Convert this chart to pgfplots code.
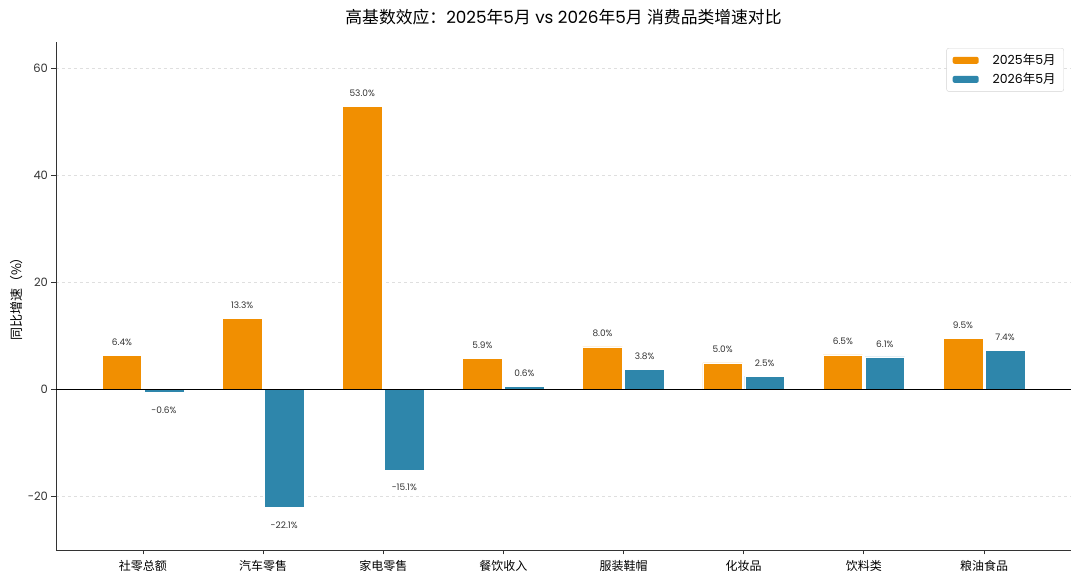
\documentclass[border=0pt]{standalone}
\usepackage{pgfplots}
\pgfplotsset{compat=1.18}
\usepackage{fontspec}
\setmainfont{Poppins}
\newfontfamily\cjk{Noto Sans CJK SC}
\definecolor{corange}{HTML}{F18F01}
\definecolor{cteal}{HTML}{2E86AB}
\definecolor{spine}{HTML}{333333}
\begin{document}
\begin{tikzpicture}
\path[use as bounding box] (-56pt,-31pt) rectangle (1024pt,550pt);
\begin{axis}[
  scale only axis,
  width=1015pt, height=508pt,
  xmin=-0.724, xmax=7.724,
  ymin=-30, ymax=65,
  axis x line*=bottom, axis y line*=left,
  axis line style={spine, line width=0.9pt},
  tick style={spine, line width=0.9pt},
  tick align=outside,
  major tick length=4.5pt,
  xtick={0,1,2,3,4,5,6,7},
  xticklabels={{\cjk 社零总额},{\cjk 汽车零售},{\cjk 家电零售},{\cjk 餐饮收入},{\cjk 服装鞋帽},{\cjk 化妆品},{\cjk 饮料类},{\cjk 粮油食品}},
  ytick={-20,0,20,40,60},
  x tick label style={font=\fontsize{12}{14}\selectfont, text=black, yshift=-2pt},
  y tick label style={font=\fontsize{11.5}{14}\selectfont, text=spine},
  /pgf/number format/assume math mode=true,
  ymajorgrids,
  major grid style={dashed, gray!25, line width=0.6pt},
  ylabel={\cjk 同比增速（\%）},
  every axis y label/.style={at={(rel axis cs:0,0.5)}, xshift=-39pt, rotate=90, anchor=center, font=\fontsize{13}{15}\selectfont},
  title={{\cjk 高基数效应：}2025{\cjk 年}5{\cjk 月} vs 2026{\cjk 年}5{\cjk 月} {\cjk 消费品类增速对比}},
  every axis title/.style={at={(0.5,1)}, anchor=center, yshift=25pt, font=\fontsize{16.8}{19}\selectfont},
  ybar,
  bar width=0.33,
  visualization depends on={y \as \rawy},
  nodes near coords={\pgfmathprintnumber[fixed,precision=1,fixed zerofill,assume math mode=true]{\pgfplotspointmeta}\%},
  every node near coord/.append style={font=\fontsize{9}{10}\selectfont, text=spine, inner sep=9.5pt,
     yshift={ifthenelse(\rawy<0,-4,0)}},
  legend style={at={(0.993,0.988)}, anchor=north east, draw=gray!35, rounded corners=2pt, fill=white,
    font=\fontsize{12.5}{15}\selectfont, inner xsep=6pt, inner ysep=4pt, row sep=3pt},
  legend cell align=left,
  legend image code/.code={\fill[#1,draw=none] (0pt,-3.5pt) rectangle (26pt,3.5pt);},
]
\addplot[fill=corange, draw=white, line width=0.6pt, bar shift=-0.175] coordinates {
 (0,6.4) (1,13.3) (2,53.0) (3,5.9) (4,8.0) (5,5.0) (6,6.5) (7,9.5)};
\addlegendentry{\hspace{12pt}2025{\cjk 年}5{\cjk 月}}
\addplot[fill=cteal, draw=white, line width=0.6pt, bar shift=0.175] coordinates {
 (0,-0.6) (1,-22.1) (2,-15.1) (3,0.6) (4,3.8) (5,2.5) (6,6.1) (7,7.4)};
\addlegendentry{\hspace{12pt}2026{\cjk 年}5{\cjk 月}}
\draw[black, line width=0.9pt] ({rel axis cs:0,0}|-{axis cs:0,0}) -- ({rel axis cs:1,0}|-{axis cs:0,0});
\end{axis}
\end{tikzpicture}
\end{document}
